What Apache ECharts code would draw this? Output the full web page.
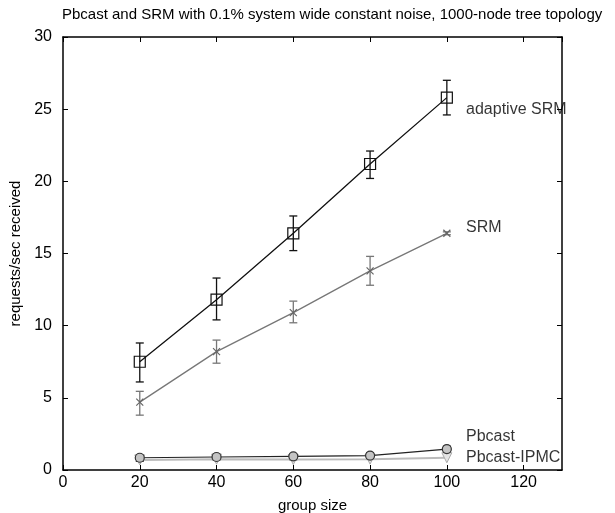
<!DOCTYPE html>
<html><head><meta charset="utf-8">
<script src="https://cdn.jsdelivr.net/npm/echarts@6/dist/echarts.min.js"></script>
<style>html,body{margin:0;padding:0;background:#fff}#c{width:615px;height:513px}</style>
</head><body><div id="c"></div>
<script>
const groupSizes = [20, 40, 60, 80, 100];
const adaptiveSRM = [7.5, 11.8, 16.4, 21.2, 25.8];
const adaptiveSRMLow = [6.1, 10.4, 15.2, 20.2, 24.6];
const adaptiveSRMHigh = [8.8, 13.3, 17.6, 22.1, 27.0];
const srm = [4.7, 8.2, 10.9, 13.8, 16.4];
const srmLow = [3.8, 7.4, 10.2, 12.8, 16.3];
const srmHigh = [5.45, 9.0, 11.7, 14.8, 16.5];
const pbcast = [0.85, 0.9, 0.95, 1.0, 1.45];
const pbcastLow = [0.6, 0.7, 0.7, 0.75, 1.2];
const pbcastHigh = [1.05, 1.1, 1.1, 1.2, 1.65];
const pbcastIPMC = [0.7, 0.75, 0.72, 0.75, 0.85];
const xTicks = [0, 20, 40, 60, 80, 100, 120];
const yTicks = [0, 5, 10, 15, 20, 25, 30];
const seriesNames = ['adaptive SRM', 'SRM', 'Pbcast', 'Pbcast-IPMC'];

const pairs = (ys) => groupSizes.map((x, i) => [x, ys[i]]);
const bars = (lo, hi) => groupSizes.map((x, i) => [x, lo[i], hi[i]]);
function errSeries(lo, hi, color) {
  return {
    type: 'custom', data: bars(lo, hi), z: 3, silent: true,
    renderItem: function (params, api) {
      const x = api.value(0);
      const a = api.coord([x, api.value(1)]);
      const b = api.coord([x, api.value(2)]);
      const w = 4;
      const st = { stroke: color, lineWidth: 1.3 };
      return { type: 'group', children: [
        { type: 'line', shape: { x1: a[0], y1: a[1], x2: b[0], y2: b[1] }, style: st },
        { type: 'line', shape: { x1: a[0] - w, y1: a[1], x2: a[0] + w, y2: a[1] }, style: st },
        { type: 'line', shape: { x1: b[0] - w, y1: b[1], x2: b[0] + w, y2: b[1] }, style: st }
      ]};
    }
  };
}
const font = 'Liberation Sans, Arial, sans-serif';
const chart = echarts.init(document.getElementById('c'));
const mainAxisLine = { show: true, onZero: false, lineStyle: { color: '#000', width: 1.5 } };
const tick = { show: true, inside: true, length: 5, lineStyle: { color: '#000', width: 1 } };
chart.setOption({
  animation: false,
  title: { text: 'Pbcast and SRM with 0.1% system wide constant noise, 1000-node tree topology',
    left: 57, top: 2, textStyle: { fontFamily: font, fontSize: 15, fontWeight: 'normal', color: '#000' } },
  grid: { left: 63, width: 499, top: 37, height: 433, containLabel: false, outerBoundsMode: 'none' },
  xAxis: [{
    type: 'value', min: 0, max: 130, interval: 20,
    name: 'group size', nameLocation: 'middle', nameGap: 28,
    nameTextStyle: { fontFamily: font, fontSize: 15, color: '#000' },
    axisLine: mainAxisLine, axisTick: tick,
    axisLabel: { fontFamily: font, fontSize: 16, color: '#000', margin: 5, showMaxLabel: false,
      formatter: v => xTicks.includes(v) ? String(v) : '' },
    splitLine: { show: false }
  }, {
    type: 'value', position: 'top', min: 0, max: 130, interval: 20,
    axisLine: mainAxisLine, axisTick: tick,
    axisLabel: { show: false }, splitLine: { show: false }
  }],
  yAxis: [{
    type: 'value', min: 0, max: 30, interval: 5,
    name: 'requests/sec received', nameLocation: 'middle', nameGap: 32,
    nameTextStyle: { fontFamily: font, fontSize: 15, color: '#000' },
    axisLine: mainAxisLine, axisTick: tick,
    axisLabel: { fontFamily: font, fontSize: 16, color: '#000', margin: 11,
      formatter: v => yTicks.includes(v) ? String(v) : '' },
    splitLine: { show: false }
  }, {
    type: 'value', position: 'right', min: 0, max: 30, interval: 5,
    axisLine: mainAxisLine, axisTick: tick,
    axisLabel: { show: false }, splitLine: { show: false }
  }],
  series: [
    errSeries(adaptiveSRMLow, adaptiveSRMHigh, '#111'),
    errSeries(srmLow, srmHigh, '#777'),
    errSeries(pbcastLow, pbcastHigh, '#333'),
    { name: seriesNames[0], type: 'line', data: pairs(adaptiveSRM), z: 4,
      symbol: 'rect', symbolSize: 11, lineStyle: { color: '#111', width: 1.3 },
      itemStyle: { color: 'rgba(0,0,0,0)', borderColor: '#111', borderWidth: 1.2 } },
    { name: seriesNames[1], type: 'line', data: pairs(srm), z: 4,
      symbol: 'path://M0,0L10,10M10,0L0,10', symbolSize: 7, lineStyle: { color: '#777', width: 1.3 },
      itemStyle: { color: 'rgba(0,0,0,0)', borderColor: '#666', borderWidth: 1.2 } },
    { name: seriesNames[3], type: 'line', data: pairs(pbcastIPMC), z: 4,
      symbol: 'triangle', symbolRotate: 180, symbolSize: 10, lineStyle: { color: '#bbb', width: 2 },
      itemStyle: { color: '#e4e4e4', borderColor: '#aaa', borderWidth: 1 } },
    { name: seriesNames[2], type: 'line', data: pairs(pbcast), z: 5,
      symbol: 'circle', symbolSize: 9, lineStyle: { color: '#222', width: 1.2 },
      itemStyle: { color: '#c4c4c4', borderColor: '#333', borderWidth: 1.2 } },
    { type: 'scatter', symbolSize: 0, silent: true, z: 6,
      data: [
        { value: [105, 25.0], name: seriesNames[0] },
        { value: [105, 16.8], name: seriesNames[1] },
        { value: [105, 2.3], name: seriesNames[2] },
        { value: [105, 0.85], name: seriesNames[3] }
      ],
      label: { show: true, position: 'right', distance: 0, formatter: p => p.name,
        fontFamily: font, fontSize: 16, color: '#000' } }
  ]
});
</script></body></html>
